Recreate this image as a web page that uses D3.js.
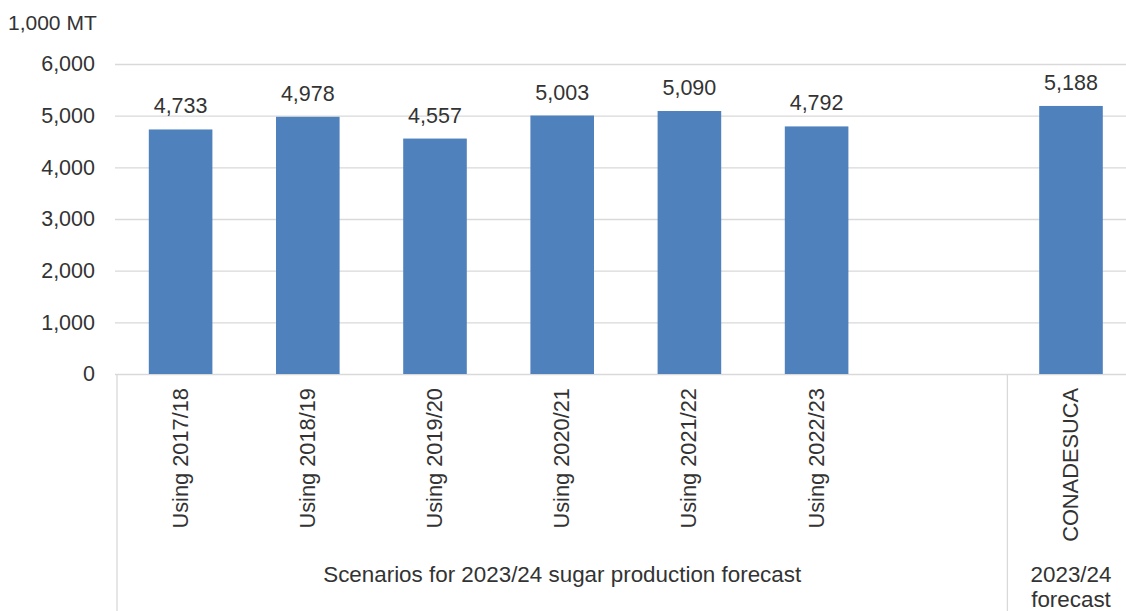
<!DOCTYPE html>
<html>
<head>
<meta charset="utf-8">
<script src="https://cdn.jsdelivr.net/npm/d3@7"></script>
<style>
  html, body { margin: 0; padding: 0; background: #fff; }
  svg { display: block; font-family: "Liberation Sans", Arial, sans-serif; }
</style>
</head>
<body>
<svg id="chart" width="1126" height="611"></svg>
<script>
// ---- data ----
const categories = ["Using 2017/18", "Using 2018/19", "Using 2019/20", "Using 2020/21", "Using 2021/22", "Using 2022/23", "", "CONADESUCA"];
const values = [4733, 4978, 4557, 5003, 5090, 4792, null, 5188];
const groupLabels = [["Scenarios for 2023/24 sugar production forecast"], ["2023/24", "forecast"]];
const groupStart = [0, 7];
const groupEnd = [6, 7];
const yTicks = [0, 1000, 2000, 3000, 4000, 5000, 6000];
const yUnit = "1,000 MT";

(function () {
// ---- layout ----
const svg = d3.select("#chart");
const mLeft = 117, mRight = 1134.6, mTop = 64, mBottom = 374;
const textColor = "#333333";
const gridColor = "#d9d9d9";
const barColor = "#4f81bd";

const x = d3.scaleBand().domain(d3.range(categories.length)).range([mLeft, mRight])
  .paddingInner(0.5).paddingOuter(0.25);
const y = d3.scaleLinear().domain([0, 6000]).range([mBottom, mTop]);

// gridlines
const grid = svg.append("g").attr("transform", `translate(${mLeft - 2},0)`)
  .call(d3.axisLeft(y).tickValues(yTicks).tickSize(-(1126 - mLeft + 2)).tickFormat(""));
grid.select(".domain").remove();
grid.selectAll("line").attr("stroke", gridColor).attr("stroke-width", 1.3);

// y tick labels
const yAxis = svg.append("g").attr("transform", `translate(${mLeft - 2},0)`)
  .call(d3.axisLeft(y).tickValues(yTicks).tickSize(0).tickPadding(20).tickFormat(d3.format(",")));
yAxis.select(".domain").remove();
yAxis.selectAll("text").attr("font-size", 21.5).attr("fill", textColor)
  .attr("font-family", "Liberation Sans, Arial, sans-serif");

svg.append("text").attr("x", 8).attr("y", 30).attr("font-size", 21).attr("fill", textColor)
  .text(yUnit);

// bars
svg.append("g").selectAll("rect")
  .data(values.map((v, i) => ({v, i})).filter(d => d.v != null))
  .join("rect")
  .attr("x", d => x(d.i))
  .attr("width", x.bandwidth())
  .attr("y", d => y(d.v))
  .attr("height", d => y(0) - y(d.v))
  .attr("fill", barColor);

// value labels
svg.append("g").selectAll("text")
  .data(values.map((v, i) => ({v, i})).filter(d => d.v != null))
  .join("text")
  .attr("x", d => x(d.i) + x.bandwidth() / 2)
  .attr("y", d => y(d.v) - 16)
  .attr("text-anchor", "middle")
  .attr("font-size", 21.5)
  .attr("fill", textColor)
  .text(d => d3.format(",")(d.v));

// category axis: group separators
const step = x.step();
const sepXs = [mLeft, mLeft + groupStart[1] * step];
svg.append("g").selectAll("line").data(sepXs).join("line")
  .attr("x1", d => d).attr("x2", d => d)
  .attr("y1", mBottom).attr("y2", 611)
  .attr("stroke", gridColor).attr("stroke-width", 1.3);

// rotated category labels
svg.append("g").selectAll("text").data(categories.map((c, i) => ({c, i})).filter(d => d.c))
  .join("text")
  .attr("transform", d => `translate(${x(d.i) + x.bandwidth() / 2 + 7},${mBottom + 14}) rotate(-90)`)
  .attr("text-anchor", "end")
  .attr("font-size", 21.8)
  .attr("fill", textColor)
  .text(d => d.c);

// group labels
groupLabels.forEach((lines, g) => {
  const cx = (mLeft + groupStart[g] * step + mLeft + (groupEnd[g] + 1) * step) / 2;
  const t = svg.append("text").attr("text-anchor", "middle").attr("font-size", 22.4).attr("fill", textColor);
  lines.forEach((ln, k) => {
    t.append("tspan").attr("x", cx).attr("y", (lines.length === 1 ? 582 : 582 + k * 25)).text(ln);
  });
});
})();
</script>
</body>
</html>
